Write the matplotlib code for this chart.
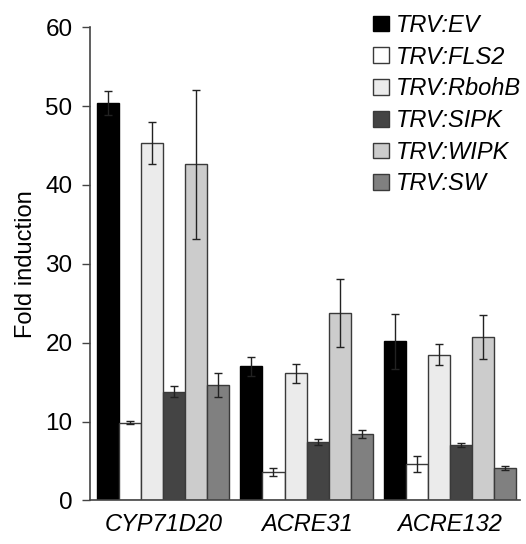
import matplotlib
matplotlib.use("Agg")
import matplotlib.pyplot as plt
import numpy as np

plt.rcParams['font.family'] = ['Liberation Sans', 'DejaVu Sans']

genes = ["CYP71D20", "ACRE31", "ACRE132"]
lines = ["TRV:EV", "TRV:FLS2", "TRV:RbohB", "TRV:SIPK", "TRV:WIPK", "TRV:SW"]
colors = ["#000000", "#ffffff", "#ebebeb", "#444444", "#cccccc", "#808080"]

# fold induction per line, one value per gene
ev = [50.4, 17.0, 20.2]
fls2 = [9.85, 3.6, 4.6]
rbohb = [45.3, 16.1, 18.5]
sipk = [13.8, 7.4, 7.05]
wipk = [42.6, 23.8, 20.7]
sw = [14.6, 8.4, 4.15]

ev_err = [1.5, 1.2, 3.5]
fls2_err = [0.2, 0.5, 1.0]
rbohb_err = [2.7, 1.25, 1.35]
sipk_err = [0.65, 0.4, 0.25]
wipk_err = [9.5, 4.3, 2.8]
sw_err = [1.5, 0.5, 0.25]

values = [ev, fls2, rbohb, sipk, wipk, sw]
errors = [ev_err, fls2_err, rbohb_err, sipk_err, wipk_err, sw_err]

fig = plt.figure(figsize=(5.26, 5.44), dpi=100)
ax = fig.add_axes([0.171, 0.080, 0.818, 0.870])

x = np.arange(len(genes))
w = 0.154
for i, (name, vals, errs, c) in enumerate(zip(lines, values, errors, colors)):
    ec = "#000000" if i == 0 else "#3a3a3a"
    ax.bar(x + (i - 2.5) * w, vals, w, color=c, edgecolor=ec, linewidth=1.0,
           label=name, yerr=errs, capsize=3,
           error_kw=dict(ecolor="#222222", elinewidth=1.0, capthick=1.0))

ax.set_xlim(-0.511, 2.49)
ax.set_ylim(0, 60)
ax.set_yticks([0, 10, 20, 30, 40, 50, 60])
ax.set_xticks(x)
ax.set_xticklabels(genes, style="italic", fontsize=17)
ax.tick_params(axis="x", length=0, pad=9)
ax.tick_params(axis="y", labelsize=17.5, length=6, width=1, pad=6.5,
               color="#444444", direction="out")
ax.spines["top"].set_visible(False)
ax.spines["right"].set_visible(False)
for s in ("left", "bottom"):
    ax.spines[s].set_color("#444444")
    ax.spines[s].set_linewidth(1.2)
ax.set_ylabel("Fold induction", fontsize=17, labelpad=6)

leg = ax.legend(loc="upper left", bbox_to_anchor=(0.692, 0.992), bbox_transform=fig.transFigure,
                frameon=False, fontsize=17, handlelength=0.64, handleheight=0.64,
                handletextpad=0.3, labelspacing=0.37, borderaxespad=0)
for t in leg.get_texts():
    t.set_style("italic")

fig.savefig("out.png", dpi=100)
